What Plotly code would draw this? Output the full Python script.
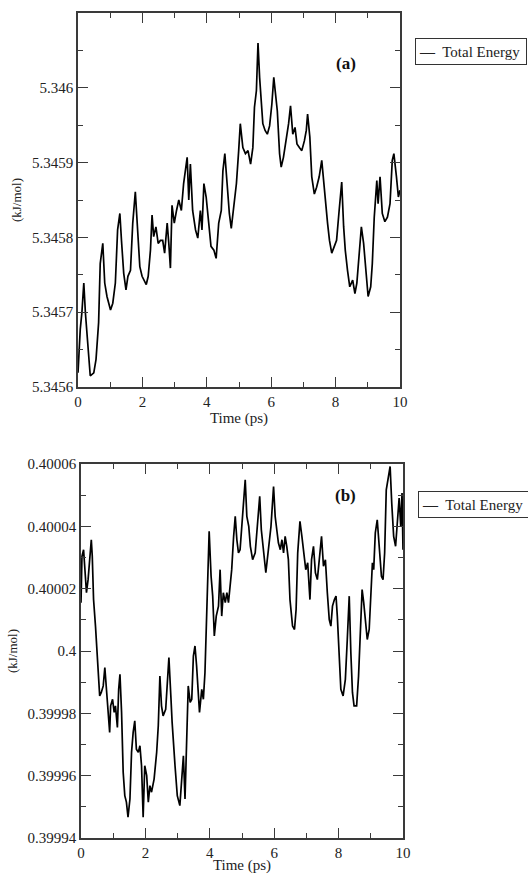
import plotly.graph_objects as go

# ---------------- data ----------------
time_a = [0.00, 0.07, 0.12, 0.18, 0.23, 0.28, 0.35, 0.38, 0.49, 0.56, 0.64, 0.69, 0.77, 0.83, 0.90,
          1.01, 1.08, 1.16, 1.23, 1.30, 1.35, 1.42, 1.49, 1.55, 1.63, 1.70, 1.78, 1.84, 1.92, 1.99,
          2.06, 2.12, 2.18, 2.25, 2.30, 2.35, 2.42, 2.49, 2.56, 2.63, 2.69, 2.77, 2.82, 2.87, 2.92, 2.99,
          3.06, 3.13, 3.21, 3.28, 3.39, 3.44, 3.49, 3.56, 3.65, 3.72, 3.80, 3.85, 3.91, 3.98,
          4.06, 4.13, 4.22, 4.29, 4.37, 4.45, 4.50, 4.56, 4.63, 4.70, 4.76, 4.83, 4.92, 4.99,
          5.04, 5.12, 5.20, 5.28, 5.36, 5.43, 5.48, 5.54, 5.59, 5.64, 5.69, 5.74, 5.81, 5.88, 5.95,
          6.02, 6.08, 6.13, 6.19, 6.26, 6.31, 6.38, 6.46, 6.54, 6.60, 6.67, 6.74, 6.80, 6.88, 6.95,
          7.03, 7.09, 7.13, 7.20, 7.26, 7.34, 7.41, 7.49, 7.57, 7.63, 7.69, 7.75, 7.81, 7.88, 7.96,
          8.03, 8.11, 8.19, 8.25, 8.30, 8.37, 8.44, 8.53, 8.60, 8.66, 8.73, 8.80, 8.87, 8.94,
          9.01, 9.09, 9.14, 9.20, 9.28, 9.32, 9.38, 9.45, 9.53, 9.61, 9.69, 9.76, 9.81, 9.89, 9.95, 10.0]
energy_a = [5.345619, 5.345677, 5.345699, 5.345739, 5.345699, 5.345668, 5.345632, 5.345615, 5.345619,
            5.345637, 5.345686, 5.345765, 5.345792, 5.345739, 5.345721,
            5.345703, 5.345712, 5.345739, 5.34581, 5.345832, 5.345796, 5.345752, 5.34573, 5.345748,
            5.345756, 5.345819, 5.345861, 5.345819, 5.345761, 5.345748,
            5.345743, 5.345737, 5.345748, 5.345783, 5.34583, 5.345801, 5.345814, 5.345792, 5.345796,
            5.345796, 5.345779, 5.345819, 5.345792, 5.345759, 5.345843, 5.345819,
            5.345836, 5.34585, 5.345836, 5.345872, 5.345907, 5.34585, 5.345898, 5.345836, 5.34581,
            5.345799, 5.345836, 5.34581, 5.345872, 5.345854,
            5.345819, 5.345788, 5.345783, 5.345772, 5.345819, 5.345836, 5.345889, 5.345912, 5.345872,
            5.345832, 5.345812, 5.345836, 5.345872, 5.345916,
            5.345952, 5.34592, 5.345912, 5.345916, 5.345898, 5.34592, 5.345974, 5.345996, 5.34606,
            5.346014, 5.345987, 5.345952, 5.345943, 5.345938, 5.345949,
            5.345978, 5.346014, 5.345996, 5.345969, 5.345912, 5.345894, 5.345907, 5.345929, 5.345952,
            5.345976, 5.345938, 5.345947, 5.345925, 5.34592, 5.345916,
            5.345929, 5.345943, 5.345965, 5.345934, 5.345881, 5.345858, 5.345867, 5.345881, 5.345903,
            5.345872, 5.345841, 5.345819, 5.345796, 5.345779, 5.345788,
            5.345796, 5.345836, 5.345874, 5.345814, 5.345783, 5.345756, 5.345734, 5.345743, 5.345725,
            5.345739, 5.345783, 5.345814, 5.345792, 5.345752,
            5.345721, 5.345734, 5.345765, 5.345827, 5.345876, 5.345845, 5.345881, 5.345832, 5.345821,
            5.345827, 5.345845, 5.345903, 5.345912, 5.345881, 5.345854, 5.345863]

time_b = [0.00, 0.03, 0.08, 0.13, 0.17, 0.22, 0.27, 0.32, 0.35, 0.39, 0.45, 0.50, 0.55, 0.58, 0.63,
          0.69, 0.74, 0.79, 0.84, 0.89, 0.92, 0.98, 1.03, 1.07, 1.13, 1.17, 1.21, 1.26, 1.31, 1.36,
          1.41, 1.46, 1.52, 1.57, 1.62, 1.67, 1.72, 1.78, 1.83, 1.88, 1.93, 1.98, 2.04, 2.09, 2.14,
          2.19, 2.27, 2.35, 2.40, 2.45, 2.50, 2.55, 2.63, 2.69, 2.73, 2.79, 2.83, 2.92, 2.99, 3.07,
          3.13, 3.18, 3.23, 3.28, 3.33, 3.39, 3.44, 3.49, 3.54, 3.59, 3.64, 3.68, 3.75, 3.80, 3.85,
          3.90, 3.94, 3.98, 4.04, 4.09, 4.14, 4.20, 4.27, 4.32, 4.37, 4.42, 4.48, 4.53, 4.58, 4.63,
          4.68, 4.74, 4.79, 4.84, 4.89, 4.94, 5.00, 5.05, 5.10, 5.15, 5.21, 5.26, 5.33, 5.41, 5.48,
          5.55, 5.60, 5.67, 5.74, 5.82, 5.90, 5.98, 6.03, 6.08, 6.13, 6.19, 6.24, 6.29, 6.34, 6.39,
          6.44, 6.49, 6.57, 6.63, 6.68, 6.73, 6.80, 6.86, 6.91, 6.98, 7.04, 7.11, 7.16, 7.22, 7.28,
          7.34, 7.40, 7.47, 7.53, 7.59, 7.65, 7.71, 7.76, 7.81, 7.87, 7.92, 7.96, 8.02, 8.07, 8.14,
          8.21, 8.27, 8.33, 8.38, 8.43, 8.48, 8.56, 8.62, 8.68, 8.73, 8.78, 8.84, 8.89, 8.95, 9.00,
          9.05, 9.09, 9.14, 9.20, 9.26, 9.33, 9.38, 9.43, 9.48, 9.55, 9.60, 9.65, 9.71, 9.77, 9.82,
          9.88, 9.93, 9.97, 10.0]
energy_b = [0.4000155, 0.4000304, 0.4000325, 0.4000261, 0.4000187, 0.4000229, 0.4000293, 0.4000357,
            0.4000304, 0.4000165, 0.400008, 0.3999995, 0.3999931, 0.3999856, 0.3999867,
            0.3999888, 0.3999947, 0.3999867, 0.3999803, 0.3999739, 0.3999824, 0.3999845, 0.3999803,
            0.3999824, 0.3999755, 0.3999877, 0.3999925, 0.3999803, 0.3999611, 0.3999536,
            0.3999515, 0.3999467, 0.3999525, 0.3999675, 0.3999739, 0.3999776, 0.3999685, 0.3999675,
            0.3999696, 0.3999632, 0.3999467, 0.3999632, 0.39996, 0.3999515, 0.3999568,
            0.3999547, 0.3999589, 0.3999675, 0.399976, 0.399992, 0.3999824, 0.3999792, 0.3999813,
            0.399992, 0.3999979, 0.3999856, 0.3999771, 0.3999632, 0.3999536, 0.3999504,
            0.3999589, 0.3999664, 0.3999525, 0.3999739, 0.3999888, 0.3999835, 0.3999845, 0.3999984,
            0.4000016, 0.3999952, 0.3999867, 0.3999803, 0.3999877, 0.3999845, 0.3999931,
            0.4000123, 0.4000304, 0.4000384, 0.400024, 0.4000176, 0.4000048, 0.4000112, 0.4000144,
            0.4000261, 0.4000112, 0.4000187, 0.4000155, 0.4000187, 0.4000155, 0.4000219,
            0.4000261, 0.4000368, 0.4000432, 0.4000357, 0.4000315, 0.4000325, 0.40004, 0.4000485,
            0.4000549, 0.4000432, 0.40004, 0.4000336, 0.4000293, 0.4000315, 0.40004,
            0.4000496, 0.4000389, 0.4000315, 0.4000251, 0.4000325, 0.40004, 0.4000528, 0.4000432,
            0.4000389, 0.4000347, 0.4000325, 0.4000357, 0.4000315, 0.4000368, 0.4000336,
            0.4000293, 0.4000165, 0.400008, 0.4000069, 0.4000133, 0.4000315, 0.4000416, 0.4000368,
            0.4000315, 0.4000261, 0.4000283, 0.4000165, 0.4000293, 0.4000336, 0.4000251,
            0.4000229, 0.4000293, 0.4000368, 0.4000272, 0.4000293, 0.4000187, 0.4000101, 0.400008,
            0.4000144, 0.4000165, 0.4000176, 0.4000112, 0.3999995, 0.3999877, 0.3999856,
            0.3999909, 0.4000037, 0.4000176, 0.3999995, 0.3999867, 0.3999824, 0.3999824, 0.399992,
            0.400008, 0.4000197, 0.4000155, 0.4000101, 0.4000037, 0.4000069, 0.4000187,
            0.4000283, 0.4000261, 0.4000379, 0.4000421, 0.4000347, 0.400024, 0.4000229, 0.4000315,
            0.4000517, 0.400056, 0.4000592, 0.4000475, 0.4000368, 0.4000336, 0.4000416,
            0.4000491, 0.40004, 0.4000507, 0.4000325]

x_ticks = [0, 2, 4, 6, 8, 10]
y_ticks_a = [5.3456, 5.3457, 5.3458, 5.3459, 5.346, 5.3461]
y_text_a = ["5.3456", "5.3457", "5.3458", "5.3459", "5.346", ""]
y_ticks_b = [0.39994, 0.39996, 0.39998, 0.4, 0.40002, 0.40004, 0.40006]
y_text_b = ["0.39994", "0.39996", "0.39998", "0.4", "0.40002", "0.40004", "0.40006"]
series_name = "Total Energy"
panel_labels = ["(a)", "(b)"]

# ---------------- figure ----------------
W, H = 528, 874
FONT = "Liberation Serif, Times New Roman, serif"
AX = "#3a3a3a"
TXT = "#222"

fig = go.Figure()
fig.add_trace(go.Scatter(x=time_a, y=energy_a, mode="lines", name=series_name,
                         line=dict(color="black", width=1.7), xaxis="x", yaxis="y",
                         showlegend=False))
fig.add_trace(go.Scatter(x=time_b, y=energy_b, mode="lines", name=series_name,
                         line=dict(color="black", width=1.7), xaxis="x2", yaxis="y2",
                         showlegend=False))


def xax(domain, anchor):
    return dict(domain=domain, anchor=anchor, range=[0, 10], tickvals=x_ticks,
                ticks="inside", ticklen=10, tickcolor=AX, tickwidth=1.3,
                minor=dict(ticks="inside", ticklen=5, dtick=1, tickcolor=AX, tickwidth=1.3),
                showline=True, linecolor=AX, linewidth=1.5, mirror="allticks",
                showgrid=False, zeroline=False, automargin=False,
                tickfont=dict(family=FONT, size=15, color=TXT),
                title=dict(text="Time (ps)", font=dict(family=FONT, size=15, color=TXT),
                           standoff=0))


def yax(domain, anchor, rng, tv, tt, minor_dtick):
    return dict(domain=domain, anchor=anchor, range=rng, tickvals=tv, ticktext=tt,
                ticks="inside", ticklen=10, tickcolor=AX, tickwidth=1.3,
                minor=dict(ticks="inside", ticklen=5, tick0=rng[0], dtick=minor_dtick,
                           tickcolor=AX, tickwidth=1.3),
                showline=True, linecolor=AX, linewidth=1.5, mirror="allticks",
                showgrid=False, zeroline=False, automargin=False,
                tickfont=dict(family=FONT, size=15, color=TXT),
                title=dict(text="(kJ/mol)", font=dict(family=FONT, size=13, color=TXT),
                           standoff=7))


def legend_box(x_px, y_px):
    return dict(text="<b>\u2014</b>  " + series_name, x=x_px / W, y=1 - y_px / H,
                xref="paper", yref="paper", xanchor="left", yanchor="top",
                showarrow=False, align="left", width=104, height=19, borderpad=3,
                bordercolor="#333", borderwidth=1, bgcolor="white",
                font=dict(family=FONT, size=15, color=TXT))


fig.update_layout(
    width=W, height=H,
    margin=dict(l=0, r=0, t=0, b=0),
    paper_bgcolor="white", plot_bgcolor="white",
    showlegend=False,
    xaxis=xax([78 / W, 400 / W], "y"),
    yaxis=yax([1 - 387 / H, 1 - 13 / H], "x", [5.3456, 5.3461], y_ticks_a, y_text_a, 0.00005),
    xaxis2=xax([81 / W, 403 / W], "y2"),
    yaxis2=yax([1 - 838 / H, 1 - 464 / H], "x2", [0.39994, 0.40006], y_ticks_b, y_text_b, 0.00001),
    annotations=[
        dict(text="<b>" + panel_labels[0] + "</b>", x=358 / W, y=1 - 52 / H, xref="paper",
             yref="paper", showarrow=False, font=dict(family=FONT, size=17, color="#111")),
        dict(text="<b>" + panel_labels[1] + "</b>", x=358 / W, y=1 - 496 / H, xref="paper",
             yref="paper", showarrow=False, font=dict(family=FONT, size=17, color="#111")),
        legend_box(415, 38),
        legend_box(418, 491),
    ],
)

fig.write_html("out.html", config={"displayModeBar": False},
               post_script="document.body.style.margin='0';document.body.style.overflow='hidden';")
